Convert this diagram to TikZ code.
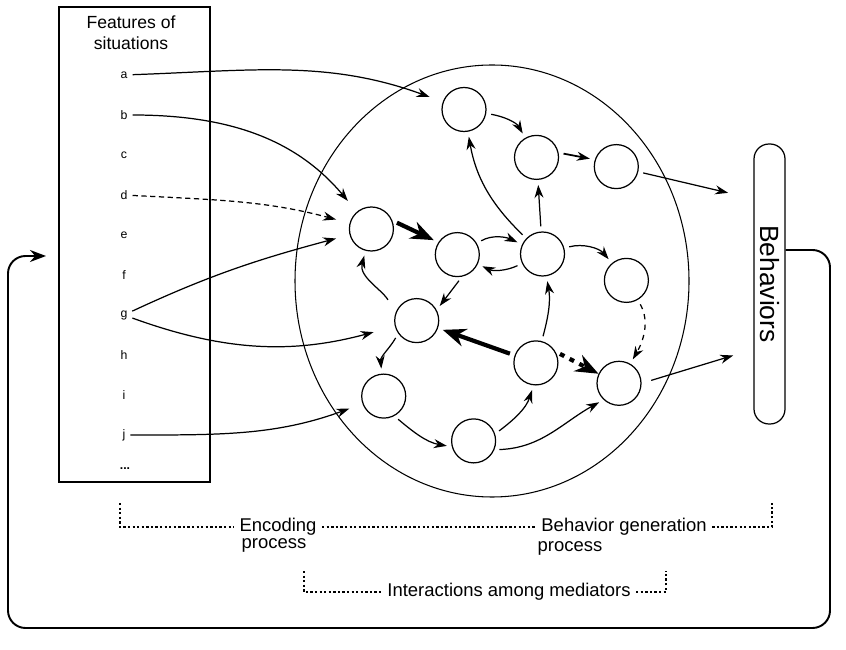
\documentclass[tikz,border=0pt]{standalone}
\usepackage{fontspec}
\setmainfont{Liberation Sans}
\usepackage{graphicx,tikz}
\usetikzlibrary{positioning}
\usetikzlibrary{arrows.meta, calc}
\tikzstyle{med} = [circle, draw, line width=0.7pt, minimum size=8.8mm, inner sep=0pt]
\tikzstyle{arrow} = [line width=0.7pt, ->, >={Stealth[length=2.6mm,width=1.8mm]}, shorten <=1mm, shorten >=1mm]
\tikzstyle{inarrow} = [arrow, shorten <=0.6mm, shorten >=2.8mm]
\tikzstyle{bigarrow} = [line width=2.4pt, ->, >={Stealth[length=4.6mm,width=3.6mm]}, shorten <=1mm, shorten >=1mm]
\tikzstyle{letter} = [font=\fontsize{7}{8}\selectfont, inner sep=1pt]
\tikzstyle{lbl} = [font=\fontsize{10.5}{12}\selectfont, inner sep=3pt]
\tikzstyle{brk} = [line width=0.6pt, dash pattern=on 1.3pt off 1.3pt]

\begin{document}
\begin{tikzpicture}[x=0.2mm,y=0.2mm]%[every node/.style={circle,draw}]
      \useasboundingbox (0,0) rectangle (846,649);
      % features of situations
      \node[draw, line width=0.7pt, minimum width=30.2mm, minimum height=95mm, inner sep=0pt] (fbox) at (134.5,404.5) {};
      \node[lbl, font=\fontsize{10}{12}\selectfont, align=center] (ftitle) at (131,616) {Features of\\situations};
      \node[letter] (a) at (124,574) {a};
      \node[letter] (b) at (124,534) {b};
      \node[letter] (c) at (124,494) {c};
      \node[letter] (d) at (124,454) {d};
      \node[letter] (e) at (124,414) {e};
      \node[letter] (f) at (124,374) {f};
      \node[letter] (g) at (124,334) {g};
      \node[letter] (h) at (124,294) {h};
      \node[letter] (i) at (124,254) {i};
      \node[letter] (j) at (124,214) {j};
      \node[letter, font=\fontsize{7}{8}\bfseries] (dots) at (125,180) {...};
      % mediators
      \draw[line width=0.6pt] (492,368) ellipse [x radius=39.4mm, y radius=43.2mm];
      \node[med] (n1) at (464,539.5) {};
      \node[med] (n2) at (536.5,491.6) {};
      \node[med] (n3) at (616.3,482.4) {};
      \node[med] (n4) at (371.4,420) {};
      \node[med] (n5) at (457.3,394.4) {};
      \node[med] (n6) at (542.5,395) {};
      \node[med] (n7) at (626.4,368.6) {};
      \node[med] (n8) at (416.7,328.4) {};
      \node[med] (n9) at (535.9,286.1) {};
      \node[med] (n10) at (619,265.7) {};
      \node[med] (n11) at (383.7,252.9) {};
      \node[med] (n12) at (473.6,208.1) {};
      % behaviors
      \node[draw, line width=0.7pt, rounded corners=3mm, minimum width=6.2mm, minimum height=56mm, inner sep=0pt, font=\fontsize{15}{18}\selectfont] (beh) at (769.5,365) {\rotatebox{-90}{Behaviors}};
      \coordinate (bin1) at (733,455);
      \coordinate (bin2) at (738,295);
      \coordinate (fbR) at (830,21);
      \coordinate (fbL) at (8,21);
      \coordinate (fbin) at (46,393);
      % inputs
      \draw[inarrow] (a) to[out=2,in=160] (n1);
      \draw[inarrow] (b) to[out=0,in=130] (n4);
      \draw[inarrow, dash pattern=on 3pt off 2pt] (d) to[out=-3,in=165] (n4);
      \draw[inarrow] (g) to[out=25,in=195] (n4);
      \draw[inarrow, shorten >=4.4mm] (g) to[out=-20,in=195] (n8);
      \draw[inarrow] (j) to[out=0,in=200] (n11);
      % interactions
      \draw[arrow] (n1) to[out=-10,in=120] (n2);
      \draw[arrow, line width=1pt] (n2.12) -- (n3.162);
      \draw[arrow] (n6) -- (n2);
      \draw[arrow] (n6) to[out=136,in=-80] (n1);
      \draw[bigarrow] (n4.22) -- (n5.147);
      \draw[arrow] (n5) to[out=30,in=155] (n6);
      \draw[arrow] (n6) to[out=205,in=-25] (n5);
      \draw[arrow] (n6) to[out=15,in=130] (n7);
      \draw[arrow] (n5.-78) -- (n8.28);
      \draw[arrow, shorten <=3mm] (n8.160) to[out=120,in=-105] (n4);
      \draw[bigarrow] (n9) -- (n8);
      \draw[bigarrow, dash pattern=on 2.8pt off 3.4pt, shorten >=0mm] (n9.30) -- (n10.155);
      \draw[arrow, dashed] (n7) to[out=-60,in=60] (n10);
      \draw[arrow] (n9) to[out=75,in=-80] (n6);
      \draw[arrow] (n8.215) to[out=240,in=95] (n11);
      \draw[arrow] (n11.-62) to[out=-40,in=170] (n12.195);
      \draw[arrow] (n12.18) to[out=37,in=-108] (n9.-96);
      \draw[arrow] (n12.-23) to[out=2,in=209] (n10.227);
      \draw[arrow] (n3) -- (bin1);
      \draw[arrow, shorten <=2mm] (n10.0) -- (bin2);
      % feedback
      \draw[line width=1.1pt, rounded corners=3.5mm, ->, >={Stealth[length=3.2mm,width=2.4mm]}] ([yshift=6.8mm]beh.east) -| (fbR) -- (fbL) |- (fbin);
      % processes
      \coordinate (encL) at (120,146);
      \coordinate (bgR) at (772,146);
      \node[lbl, anchor=mid] (enc) at (278,122) {Encoding};
      \node[lbl, anchor=west] (encp) at (236,104) {process};
      \node[lbl, anchor=mid] (bgen) at (624,122) {Behavior generation};
      \node[lbl, anchor=west] (bgenp) at (532,101) {process};
      \draw[brk] (encL) |- (enc.mid west);
      \draw[brk] (enc.mid east) -- (bgen.mid west);
      \draw[brk] (bgen.mid east) -| (bgR);
      \coordinate (intL) at (304,78);
      \coordinate (intR) at (666,78);
      \node[lbl, anchor=mid] (inter) at (509,57) {Interactions among mediators};
      \draw[brk] (intL) |- (inter.mid west);
      \draw[brk] (inter.mid east) -| (intR);
\end{tikzpicture}
\end{document}
